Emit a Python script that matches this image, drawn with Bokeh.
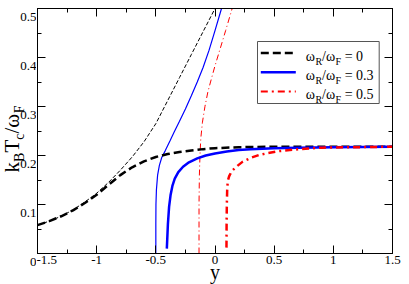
import math
from bokeh.plotting import figure
from bokeh.layouts import row
from bokeh.models import FixedTicker, LinearAxis, Label, Range1d
from bokeh.core.properties import value
from bokeh.embed import file_html
from bokeh.resources import INLINE

# ---------------- data ----------------
x_ticks = [-1.5, -1.0, -0.5, 0.0, 0.5, 1.0, 1.5]
x_tick_labels = ["-1.5", "-1", "-0.5", "0", "0.5", "1", "1.5"]
x_minor = [-1.25, -0.75, -0.25, 0.25, 0.75, 1.25]
y_ticks = [0.0, 0.1, 0.2, 0.3, 0.4, 0.5]
y_tick_labels = ["0", "0.1", "0.2", "0.3", "0.4", "0.5"]
y_minor = [0.05, 0.15, 0.25, 0.35, 0.45]

ratios = ["0", "0.3", "0.5"]

# omega_R/omega_F = 0, thick (lower) branch
black_thick_x = [-1.5, -1.4, -1.3, -1.2, -1.1, -1.0, -0.9, -0.8, -0.7, -0.6, -0.5, -0.4,
                 -0.3, -0.2, -0.1, 0.0, 0.2, 0.5, 1.0, 1.5]
black_thick_y = [0.058, 0.066, 0.076, 0.088, 0.103, 0.120, 0.140, 0.160, 0.176, 0.188, 0.197,
                 0.203, 0.207, 0.210, 0.213, 0.215, 0.217, 0.218, 0.218, 0.218]
# omega_R/omega_F = 0, thin (upper) branch
black_thin_x = [-1.5, -1.4, -1.3, -1.2, -1.1, -1.0, -0.9, -0.8, -0.7, -0.6, -0.5, -0.4,
                -0.3, -0.2, -0.1, 0.0]
black_thin_y = [0.058, 0.066, 0.076, 0.089, 0.105, 0.123, 0.145, 0.170, 0.197, 0.228, 0.265,
                0.312, 0.359, 0.406, 0.453, 0.500]

# omega_R/omega_F = 0.3
blue_thick_x = [-0.407, -0.398, -0.388, -0.375, -0.36, -0.34, -0.31, -0.27, -0.22, -0.15,
                -0.078, 0.0, 0.1, 0.2, 0.3, 0.5, 0.7, 1.0, 1.5]
blue_thick_y = [0.010, 0.060, 0.095, 0.120, 0.138, 0.153, 0.166, 0.177, 0.186, 0.194,
                0.200, 0.204, 0.208, 0.211, 0.213, 0.215, 0.216, 0.217, 0.218]
blue_thin_x = [-0.5, -0.5, -0.499, -0.495, -0.485, -0.47, -0.45, -0.42, -0.38, -0.345, -0.3,
               -0.25, -0.2, -0.15, -0.1, -0.05, 0.0, 0.055]
blue_thin_y = [0.0, 0.06, 0.10, 0.13, 0.16, 0.18, 0.196, 0.21, 0.23, 0.248, 0.27,
               0.295, 0.322, 0.350, 0.380, 0.415, 0.455, 0.500]

# omega_R/omega_F = 0.5
red_thick_x = [0.097, 0.098, 0.100, 0.103, 0.108, 0.12, 0.135, 0.15, 0.18, 0.232, 0.3, 0.373,
               0.45, 0.542, 0.711, 0.908, 1.2, 1.5]
red_thick_y = [0.012, 0.060, 0.100, 0.130, 0.148, 0.158, 0.165, 0.170, 0.177, 0.187, 0.195,
               0.201, 0.205, 0.209, 0.213, 0.216, 0.217, 0.218]
red_thin_x = [-0.135, -0.135, -0.132, -0.127, -0.12, -0.106, -0.085, -0.06, -0.03, 0.0, 0.04,
              0.09, 0.145]
red_thin_y = [0.0, 0.10, 0.16, 0.20, 0.235, 0.268, 0.30, 0.33, 0.357, 0.383, 0.415,
              0.455, 0.500]

# ---------------- layout constants ----------------
FW, FH = 355, 245
TOP, BOTTOM = 8, 48
PLW = 36                     # strip holding the y tick labels and the y-axis title
X0, X1 = x_ticks[0], x_ticks[-1]
Y0, Y1 = y_ticks[0], y_ticks[-1]
FONT = "Liberation Serif"
ppx = FW / (X1 - X0)
ppy = FH / (Y1 - Y0)

p = figure(frame_width=FW, frame_height=FH,
           x_range=Range1d(X0, X1), y_range=Range1d(Y0, Y1),
           output_backend="svg", toolbar_location=None,
           min_border_left=1, min_border_right=9, min_border_top=TOP, min_border_bottom=BOTTOM,
           background_fill_color="white", border_fill_color="white")
p.outline_line_color = "black"
p.outline_line_width = 1
p.grid.visible = False


def style_axis(ax, ticks, minor, labels, standoff):
    ax.ticker = FixedTicker(ticks=ticks, minor_ticks=minor)
    ax.major_label_overrides = dict(zip(ticks, labels))
    ax.major_tick_in = 8
    ax.major_tick_out = 0
    ax.minor_tick_in = 4
    ax.minor_tick_out = 0
    ax.major_tick_line_color = "black"
    ax.minor_tick_line_color = "black"
    ax.axis_line_color = "black"
    ax.major_label_text_font = FONT
    ax.major_label_text_font_size = "13px"
    ax.major_label_text_color = "black"
    ax.major_label_standoff = standoff


x_bottom = p.below[0]
y_left = p.left[0]
style_axis(x_bottom, x_ticks, x_minor, x_tick_labels, 2)
style_axis(y_left, y_ticks, y_minor, [""] * len(y_ticks), 0)

# x axis title
x_bottom.axis_label = "y"
x_bottom.axis_label_text_font = FONT
x_bottom.axis_label_text_font_size = "20px"
x_bottom.axis_label_text_font_style = "normal"
x_bottom.axis_label_text_color = "black"
x_bottom.axis_label_standoff = -6

top_ax = LinearAxis()
style_axis(top_ax, x_ticks, x_minor, [""] * len(x_ticks), 0)
p.add_layout(top_ax, "above")
right_ax = LinearAxis()
style_axis(right_ax, y_ticks, y_minor, [""] * len(y_ticks), 0)
p.add_layout(right_ax, "right")

# ---------------- curves ----------------
p.line(black_thin_x, black_thin_y, line_color="black", line_width=1, line_dash="4 2")
p.line(blue_thin_x, blue_thin_y, line_color="blue", line_width=1.2)
p.line(red_thin_x, red_thin_y, line_color="red", line_width=1, line_dash="6 3 1 3")
p.line(black_thick_x, black_thick_y, line_color="black", line_width=2.5, line_dash="8 4")
p.line(blue_thick_x, blue_thick_y, line_color="blue", line_width=2.5)
p.line(red_thick_x, red_thick_y, line_color="red", line_width=2.5, line_dash="7 4 2 4")

# ---------------- text helpers ----------------
EM = {"k": 0.5, "B": 0.667, "T": 0.611, "c": 0.444, "/": 0.278, "ω": 0.686, "F": 0.556,
      "R": 0.667, " ": 0.25, "=": 0.564, "0": 0.5, ".": 0.25, "3": 0.5, "5": 0.5}
DESC = 0.216


def tw(s, size):
    return sum(EM.get(ch, 0.5) for ch in s) * size


# ---------------- left strip: y tick labels + title k_B T_c / ω_F ----------------
pl = figure(frame_width=PLW, frame_height=TOP + FH + BOTTOM, x_range=Range1d(0, PLW),
            y_range=Range1d(Y0 - BOTTOM / ppy, Y1 + TOP / ppy),
            x_axis_type=None, y_axis_type=None,
            output_backend="svg", toolbar_location=None,
            min_border_left=0, min_border_right=0, min_border_top=0, min_border_bottom=0,
            background_fill_color="white", border_fill_color="white")
pl.outline_line_color = None
pl.grid.visible = False

# y tick labels, placed through the same y scale as the plot
pl.text(x=[PLW] * len(y_ticks), y=y_ticks, text=y_tick_labels, text_align="right",
        text_baseline="middle", text_font=value(FONT), text_font_size="13px", text_color="black")

MAIN, SUB = 21, 14
BASE_MAIN = 19.2             # baseline of the main glyphs (px from strip's left edge)
BASE_SUB = BASE_MAIN + 4     # subscripts sit lower (to the right once rotated)
ylab = [("k", 0), ("B", 1), ("T", 0), ("c", 1), ("/ω", 0), ("F", 1)]
total = sum(tw(t, SUB if s else MAIN) for t, s in ylab)
cum = -total / 2
for t, s in ylab:
    size = SUB if s else MAIN
    base = BASE_SUB if s else BASE_MAIN
    pl.text(x=[base + DESC * size], y=[(Y0 + Y1) / 2 + cum / ppy], text=[t],
            angle=math.pi / 2, text_font=value(FONT), text_font_size=f"{size}px",
            text_color="black")
    cum += tw(t, size)

# ---------------- legend ----------------
box_l, box_r, box_t, box_b = -135, -13.3, -33, -95
p.quad(left=[X1 + box_l / ppx], right=[X1 + box_r / ppx], top=[Y1 + box_t / ppy],
       bottom=[Y1 + box_b / ppy], fill_color="white", line_color="#555555", line_width=1)

styles = [dict(line_color="black", line_width=2.5, line_dash="8 4"),
          dict(line_color="blue", line_width=2.5),
          dict(line_color="red", line_width=2, line_dash="7 4 2 4")]
samp_l, samp_r, text_l = -131.7, -96.7, -86.7
LM, LS = 14, 10
for i, (r, st) in enumerate(zip(ratios, styles)):
    ry = box_t - 11.5 - 19.2 * i
    p.line([X1 + samp_l / ppx, X1 + samp_r / ppx], [Y1 + ry / ppy, Y1 + ry / ppy], **st)
    parts = [("ω", 0), ("R", 1), ("/ω", 0), ("F", 1), ("= " + r, 0)]
    cx = text_l
    for t, s in parts:
        size = LS if s else LM
        if t.startswith("="):
            cx += tw(" ", LM)
        p.add_layout(Label(x=X1, y=Y1, x_offset=cx, y_offset=ry - 3 - (5 if s else 0), text=t,
                           text_align="left", text_baseline="alphabetic", text_font=FONT,
                           text_font_size=f"{size}px", text_color="black"))
        cx += tw(t, size)

page = row(pl, p)
open("out.html", "w").write(file_html(page, INLINE))
